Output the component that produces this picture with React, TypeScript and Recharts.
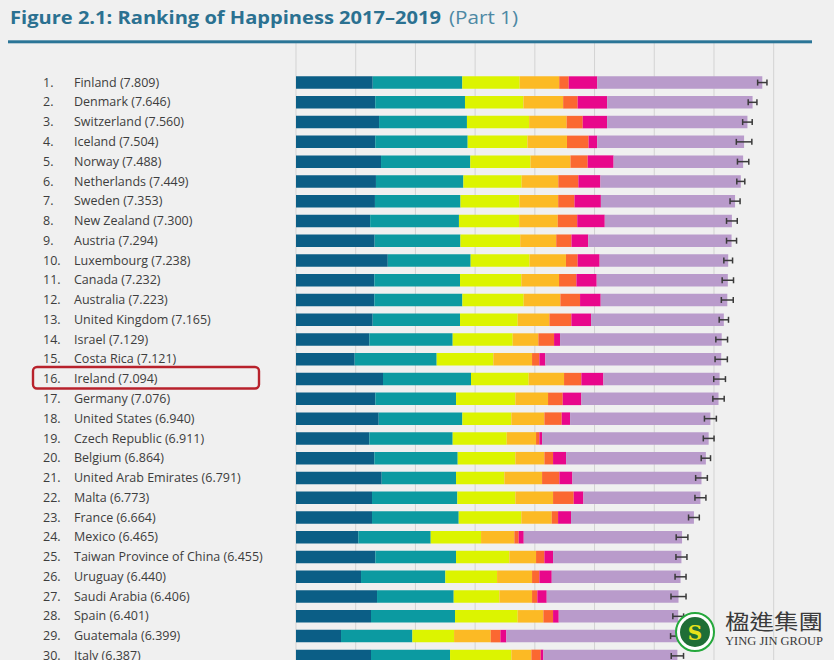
import React from 'react';
import { BarChart, Bar, XAxis, YAxis, CartesianGrid, ErrorBar } from 'recharts';

// Ranking of Happiness 2017-2019, top 30
const countries = [
  'Finland', 'Denmark', 'Switzerland', 'Iceland', 'Norway', 'Netherlands', 'Sweden',
  'New Zealand', 'Austria', 'Luxembourg', 'Canada', 'Australia', 'United Kingdom', 'Israel',
  'Costa Rica', 'Ireland', 'Germany', 'United States', 'Czech Republic', 'Belgium',
  'United Arab Emirates', 'Malta', 'France', 'Mexico', 'Taiwan Province of China', 'Uruguay',
  'Saudi Arabia', 'Spain', 'Guatemala', 'Italy',
];
const scores = [
  7.809, 7.646, 7.560, 7.504, 7.488, 7.449, 7.353, 7.300, 7.294, 7.238, 7.232, 7.223, 7.165, 7.129,
  7.121, 7.094, 7.076, 6.940, 6.911, 6.864, 6.791, 6.773, 6.664, 6.465, 6.455, 6.440, 6.406, 6.401,
  6.399, 6.387,
];
const gdp = [
  1.285, 1.327, 1.391, 1.327, 1.424, 1.339, 1.322, 1.242, 1.317, 1.537, 1.312, 1.312, 1.284, 1.228,
  0.983, 1.457, 1.329, 1.385, 1.228, 1.312, 1.435, 1.273, 1.273, 1.044, 1.329, 1.089, 1.357, 1.256,
  0.754, 1.256,
];
const social = [
  1.500, 1.503, 1.472, 1.548, 1.495, 1.464, 1.433, 1.487, 1.437, 1.388, 1.435, 1.474, 1.463, 1.396,
  1.373, 1.474, 1.351, 1.401, 1.396, 1.396, 1.245, 1.429, 1.452, 1.212, 1.351, 1.412, 1.284, 1.407,
  1.195, 1.324,
];
const health = [
  0.961, 0.979, 1.041, 1.001, 1.008, 0.976, 0.986, 1.008, 1.001, 0.986, 1.027, 1.027, 0.966, 1.005,
  0.949, 0.966, 0.994, 0.821, 0.905, 0.966, 0.810, 0.972, 1.049, 0.843, 0.893, 0.866, 0.765, 1.050,
  0.698, 1.027,
];
const freedom = [
  0.662, 0.665, 0.629, 0.662, 0.670, 0.614, 0.650, 0.647, 0.603, 0.610, 0.631, 0.615, 0.531, 0.430,
  0.648, 0.592, 0.547, 0.553, 0.491, 0.486, 0.631, 0.631, 0.509, 0.558, 0.447, 0.586, 0.547, 0.430,
  0.614, 0.335,
];
const generosity = [
  0.160, 0.243, 0.269, 0.362, 0.288, 0.336, 0.273, 0.326, 0.256, 0.196, 0.291, 0.329, 0.368, 0.263,
  0.123, 0.290, 0.246, 0.290, 0.056, 0.145, 0.290, 0.346, 0.106, 0.073, 0.140, 0.123, 0.089, 0.162,
  0.162, 0.156,
];
const corruption = [
  0.478, 0.495, 0.408, 0.145, 0.434, 0.369, 0.442, 0.461, 0.281, 0.368, 0.340, 0.346, 0.330, 0.100,
  0.100, 0.369, 0.312, 0.140, 0.045, 0.218, 0.218, 0.162, 0.217, 0.084, 0.145, 0.207, 0.157, 0.095,
  0.100, 0.045,
];
const dystopia = [
  2.763, 2.434, 2.350, 2.459, 2.169, 2.351, 2.247, 2.129, 2.399, 2.153, 2.196, 2.120, 2.223, 2.707,
  2.945, 1.946, 2.297, 2.350, 2.790, 2.341, 2.162, 1.960, 2.058, 2.651, 2.150, 2.157, 2.207, 2.001,
  2.876, 2.244,
];
const ciHalf = [
  0.078, 0.073, 0.080, 0.130, 0.095, 0.067, 0.084, 0.090, 0.084, 0.073, 0.095, 0.100, 0.078, 0.098,
  0.103, 0.098, 0.095, 0.100, 0.090, 0.078, 0.098, 0.092, 0.090, 0.098, 0.092, 0.092, 0.126, 0.090,
  0.126, 0.103,
];
const xTicks = [0, 1, 2, 3, 4, 5, 6, 7, 8];

const colors = {
  gdp: '#0b5e86',
  social: '#0c9aa1',
  health: '#dcf400',
  freedom: '#fcba24',
  generosity: '#fb6831',
  corruption: '#e8078b',
  dystopia: '#b99bcb',
};

const data = countries.map((country, i) => ({
  country,
  gdp: gdp[i],
  social: social[i],
  health: health[i],
  freedom: freedom[i],
  generosity: generosity[i],
  corruption: corruption[i],
  dystopia: dystopia[i],
  err: ciHalf[i],
}));

const labelFont = "'Open Sans', 'DejaVu Sans', sans-serif";

const CountryTick = (props: any) => {
  const { y, payload } = props;
  const i = countries.indexOf(payload.value);
  return (
    <g fontFamily={labelFont} fontSize={12.5} fill="#3d3d3d">
      <text x={43} y={y} dy={4.5}>{`${i + 1}.`}</text>
      <text x={74} y={y} dy={4.5}>{`${payload.value} (${scores[i].toFixed(3)})`}</text>
    </g>
  );
};

export default function App() {
  const series = ['gdp', 'social', 'health', 'freedom', 'generosity', 'corruption', 'dystopia'] as const;
  return (
    <div style={{ position: 'fixed', top: 0, left: 0, width: 834, height: 660, overflow: 'hidden', background: '#f0f0f0' }}>
      <BarChart
        layout="vertical"
        width={834}
        height={680}
        data={data}
        margin={{ top: 43, right: 60.3, bottom: 14.6, left: 0 }}
        barSize={12.5}
      >
        <CartesianGrid horizontal={false} stroke="#d3d3d3" />
        <XAxis type="number" domain={[0, 8]} ticks={xTicks} hide />
        <YAxis
          type="category"
          dataKey="country"
          width={296}
          axisLine={false}
          tickLine={false}
          interval={0}
          padding={{ top: 29.3, bottom: 0 }}
          tick={<CountryTick />}
        />
        {series.map((key) => (
          <Bar key={key} dataKey={key} stackId="a" fill={colors[key]} isAnimationActive={false}>
            {key === 'dystopia' && (
              <ErrorBar dataKey="err" direction="x" width={3} stroke="#3a3a3a" strokeWidth={1.5} isAnimationActive={false} />
            )}
          </Bar>
        ))}
      </BarChart>

      <svg width={834} height={660} style={{ position: 'absolute', top: 0, left: 0, pointerEvents: 'none' }}>
        <text x={10} y={24} fontFamily={labelFont} fontWeight={700} fontSize={18} fill="#2b7191"
          textLength={431} lengthAdjust="spacingAndGlyphs">
          Figure 2.1: Ranking of Happiness 2017–2019
        </text>
        <text x={449} y={24} fontFamily={labelFont} fontSize={18} fill="#4d88a4"
          textLength={69} lengthAdjust="spacingAndGlyphs">
          (Part 1)
        </text>
        <rect x={8} y={40.3} width={804} height={3} fill="#2b7597" />
        <rect x={33} y={367} width={226} height={21.5} rx={4} fill="none" stroke="#b8222c" strokeWidth={2.4} />

        <circle cx={695} cy={632} r={19} fill="#ffffff" stroke="#25a83c" strokeWidth={2} />
        <circle cx={695} cy={632} r={15} fill="#1f6e36" />
        <text x={695} y={640} textAnchor="middle" fontFamily="'DejaVu Serif', serif" fontWeight={700} fontSize={20} fill="#e8e21a">S</text>
        <text x={725} y={629} fontFamily="'Noto Sans CJK TC', sans-serif" fontSize={21} fill="#3a3a3a"
          textLength={98} lengthAdjust="spacingAndGlyphs">楹進集團</text>
        <text x={725} y={645} fontFamily="'Liberation Serif', serif" fontSize={11.5} fill="#3a3a3a"
          textLength={98} lengthAdjust="spacingAndGlyphs">YING JIN GROUP</text>
      </svg>
    </div>
  );
}
